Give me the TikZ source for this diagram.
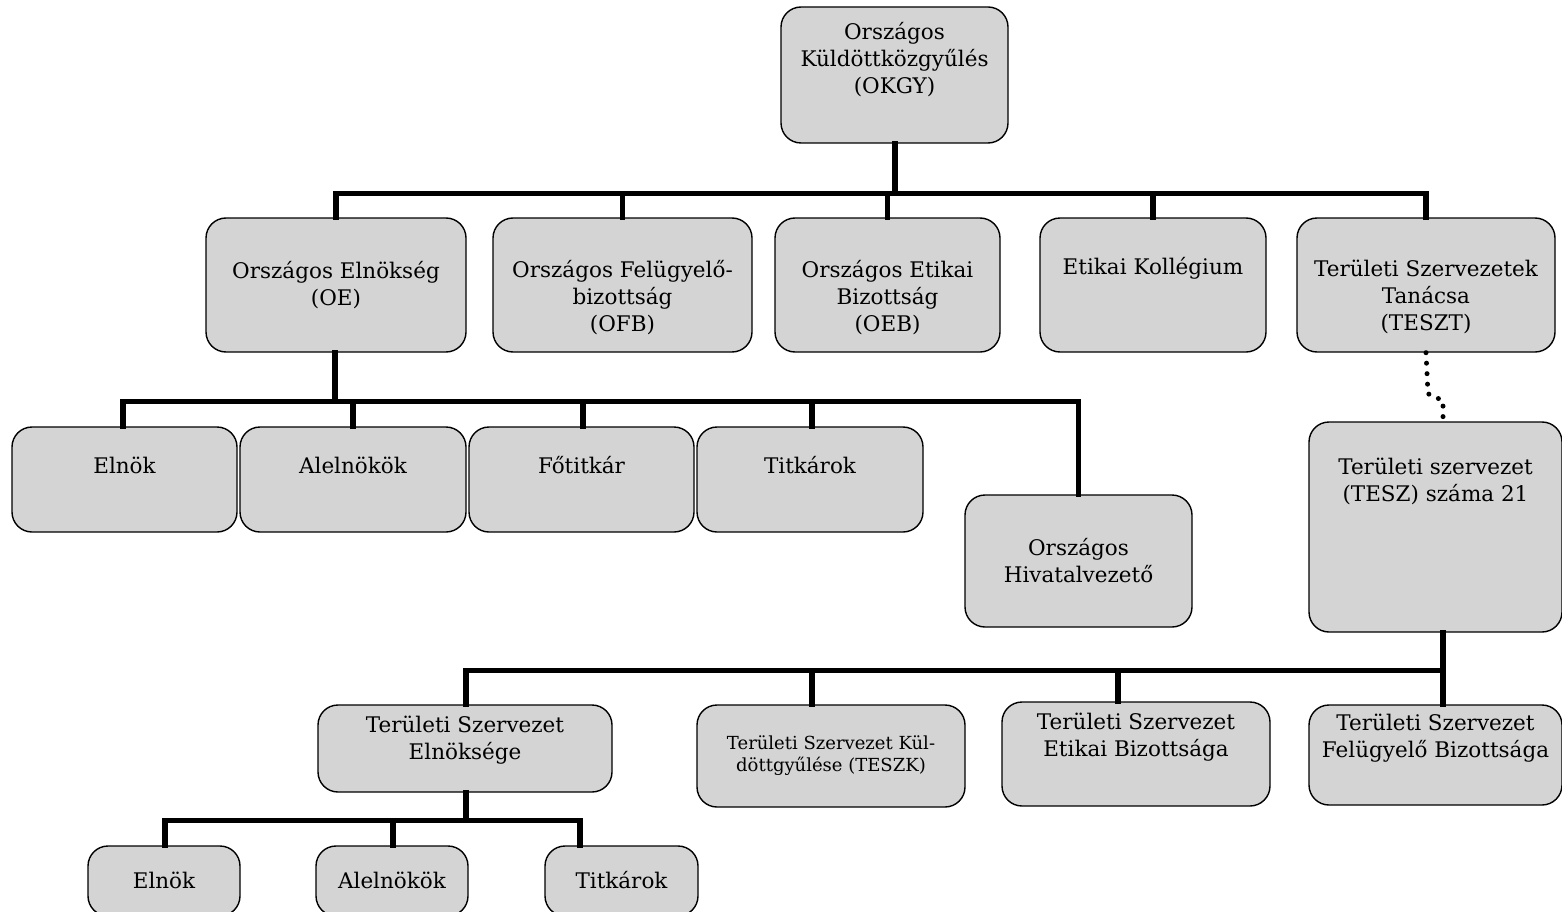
\documentclass[tikz,border=0pt]{standalone}
\usepackage{fontspec}
\setmainfont{DejaVu Serif}
\tikzset{
  box/.style={draw=black, line width=1.4pt, fill=black!17, rounded corners=20pt, inner sep=0pt},
  lbl/.style={align=center, inner sep=0pt, font=\fontsize{21.5}{27}\selectfont},
  small/.style={align=center, inner sep=0pt, font=\fontsize{18}{22}\selectfont},
  conn/.style={line width=5.5pt, line cap=rect, line join=miter},
  dotline/.style={line width=5pt, line cap=round, dash pattern=on 0pt off 10.5pt},
}
\begin{document}
\begin{tikzpicture}[x=1pt,y=-1pt]
\useasboundingbox (0,0) rectangle (1562,912);
\clip (0,0) rectangle (1562,912);
% level 0
\node[box, minimum width=227, minimum height=136] (okgy) at (894.5,75) {};
\node[lbl] (tokgy) at (894.5,60) {Országos\\Küldöttközgyűlés\\(OKGY)};
% level 1
\node[box, minimum width=260, minimum height=134] (oe) at (336,285) {};
\node[lbl] (toe) at (336,285) {Országos Elnökség\\(OE)};
\node[box, minimum width=259, minimum height=134] (ofb) at (622.5,285) {};
\node[lbl] (tofb) at (622.5,298) {Országos Felügyelő-\\bizottság\\(OFB)};
\node[box, minimum width=225, minimum height=134] (oeb) at (887.5,285) {};
\node[lbl] (toeb) at (887.5,298) {Országos Etikai\\Bizottság\\(OEB)};
\node[box, minimum width=226, minimum height=134] (ek) at (1153,285) {};
\node[lbl] (tek) at (1153,268) {Etikai Kollégium};
\node[box, minimum width=258, minimum height=134] (teszt) at (1426,285) {};
\node[lbl] (tteszt) at (1426,297) {Területi Szervezetek\\Tanácsa\\(TESZT)};
% level 2 under OE
\node[box, minimum width=225, minimum height=105] (elnok1) at (124.5,479.5) {};
\node[lbl] (telnok1) at (124.5,465) {Elnök};
\node[box, minimum width=226, minimum height=105] (alel1) at (353,479.5) {};
\node[lbl] (talel1) at (353,465) {Alelnökök};
\node[box, minimum width=225, minimum height=105] (fotit) at (581.5,479.5) {};
\node[lbl] (tfotit) at (581.5,465) {Főtitkár};
\node[box, minimum width=226, minimum height=105] (titk1) at (810,479.5) {};
\node[lbl] (ttitk1) at (810,465) {Titkárok};
\node[box, minimum width=227, minimum height=132] (hiv) at (1078.5,561) {};
\node[lbl] (thiv) at (1078.5,561) {Országos\\Hivatalvezető};
% TESZ
\node[box, minimum width=253, minimum height=210] (tesz) at (1435.5,527) {};
\node[lbl] (ttesz) at (1435.5,481) {Területi szervezet\\(TESZ) száma 21};
% level under TESZ
\node[box, minimum width=294, minimum height=87] (tsze) at (465,748.5) {};
\node[lbl] (ttsze) at (465,740) {Területi Szervezet\\Elnöksége};
\node[box, minimum width=268, minimum height=102] (teszk) at (831,756) {};
\node[small] (tteszk) at (831,756) {Területi Szervezet Kül-\\döttgyűlése (TESZK)};
\node[box, minimum width=268, minimum height=104] (tseb) at (1136,754) {};
\node[lbl] (ttseb) at (1136,737.5) {Területi Szervezet\\Etikai Bizottsága};
\node[box, minimum width=253, minimum height=100] (tsfb) at (1435.5,755) {};
\node[lbl] (ttsfb) at (1435.5,738) {Területi Szervezet\\Felügyelő Bizottsága};
% bottom row
\node[box, minimum width=152, minimum height=70] (elnok2) at (164,881) {};
\node[lbl] (telnok2) at (164,880) {Elnök};
\node[box, minimum width=152, minimum height=70] (alel2) at (392,881) {};
\node[lbl] (talel2) at (392,880) {Alelnökök};
\node[box, minimum width=153, minimum height=70] (titk2) at (621.5,881) {};
\node[lbl] (ttitk2) at (621.5,880) {Titkárok};
% connectors level 0 -> 1
\draw[conn] ([xshift=0.5]okgy.south) -- ++(0,50) -| (oe.north);
\draw[conn] ([xshift=0.5]okgy.south) -- ++(0,50) -| (ofb.north);
\draw[conn] ([xshift=0.5]okgy.south) -- ++(0,50) -| (oeb.north);
\draw[conn] ([xshift=0.5]okgy.south) -- ++(0,50) -| (ek.north);
\draw[conn] ([xshift=0.5]okgy.south) -- ++(0,50) -| (teszt.north);
% OE -> level 2
\draw[conn] ([xshift=-1]oe.south) -- ++(0,49) -| ([xshift=-1.5]elnok1.north);
\draw[conn] ([xshift=-1]oe.south) -- ++(0,49) -| (alel1.north);
\draw[conn] ([xshift=-1]oe.south) -- ++(0,49) -| ([xshift=1.5]fotit.north);
\draw[conn] ([xshift=-1]oe.south) -- ++(0,49) -| ([xshift=2]titk1.north);
\draw[conn] ([xshift=-1]oe.south) -- ++(0,49) -| (hiv.north);
% TESZT .. TESZ dotted
\draw[dotline] (teszt.south) -- ++(2,41) -- ++(15,7) -- ([xshift=7.5]tesz.north);
% TESZ -> children
\draw[conn] ([xshift=7.5]tesz.south) -- ++(0,38) -| ([xshift=1]tsze.north);
\draw[conn] ([xshift=7.5]tesz.south) -- ++(0,38) -| ([xshift=-19]teszk.north);
\draw[conn] ([xshift=7.5]tesz.south) -- ++(0,38) -| ([xshift=-18]tseb.north);
\draw[conn] ([xshift=7.5]tesz.south) -- ([xshift=7.5]tsfb.north);
% Elnöksége -> bottom row
\draw[conn] ([xshift=1]tsze.south) -- ++(0,28) -| ([xshift=1]elnok2.north);
\draw[conn] ([xshift=1]tsze.south) -- ++(0,28) -| ([xshift=1]alel2.north);
\draw[conn] ([xshift=1]tsze.south) -- ++(0,28) -| ([xshift=-41.5]titk2.north);
\end{tikzpicture}
\end{document}
